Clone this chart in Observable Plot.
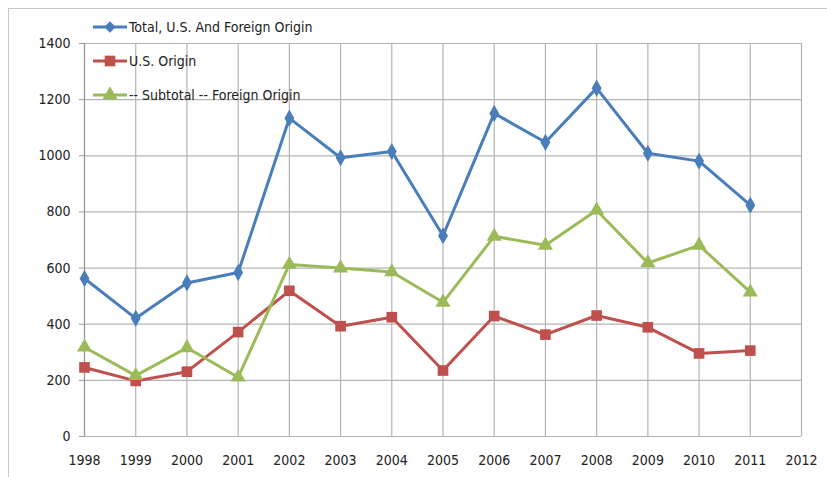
<!DOCTYPE html>
<html>
<head>
<meta charset="utf-8">
<script src="https://cdn.jsdelivr.net/npm/d3@7"></script>
<script src="https://cdn.jsdelivr.net/npm/@observablehq/plot@0.6"></script>
<style>
  html, body { margin: 0; padding: 0; background: #fff; }
  #wrap { position: relative; width: 827px; height: 477px; overflow: hidden;
          font-family: "DejaVu Sans Condensed", "Liberation Sans Narrow", sans-serif; }
  #frame { position: absolute; left: 8px; top: 8px; width: 830px; height: 480px;
           border-top: 1.5px solid #c8c8c8; border-left: 1.5px solid #c8c8c8; pointer-events: none; }
  #legend { position: absolute; left: 93px; top: 10px; font-size: 14px; color: #222; }
  .item { display: flex; align-items: center; height: 34px; }
  .item svg { margin-right: 2px; }
</style>
</head>
<body>
<div id="wrap">
  <div id="chart"></div>
  <div id="frame"></div>
  <div id="legend"></div>
</div>
<script>
const years = [1998, 1999, 2000, 2001, 2002, 2003, 2004, 2005, 2006, 2007, 2008, 2009, 2010, 2011];
const totalValues   = [563, 421, 547, 584, 1134, 993, 1015, 715, 1151, 1048, 1241, 1009, 981, 824];
const usValues      = [246, 198, 231, 372, 519, 393, 425, 235, 429, 363, 431, 389, 296, 306];
const foreignValues = [318, 217, 316, 211, 613, 600, 586, 478, 713, 681, 806, 618, 681, 514];
const seriesNames   = ["Total, U.S. And Foreign Origin", "U.S. Origin", "-- Subtotal -- Foreign Origin"];
const seriesColors  = ["#4a7ebb", "#c0504d", "#9bbb59"];
const seriesSymbols = ["diamond", "square", "triangle"];
const seriesR       = [5.2, 6.0, 5.6];
const xTicks = [1998, 1999, 2000, 2001, 2002, 2003, 2004, 2005, 2006, 2007, 2008, 2009, 2010, 2011, 2012];
const yTicks = [0, 200, 400, 600, 800, 1000, 1200, 1400];

const allValues = [totalValues, usValues, foreignValues];
const rows = [];
allValues.forEach((vals, s) => vals.forEach((v, i) => rows.push({year: years[i], value: v, series: seriesNames[s]})));

const font = '"DejaVu Sans Condensed", "Liberation Sans Narrow", sans-serif';
const marks = [
  Plot.gridX(xTicks, {stroke: "#b4b4b4", strokeOpacity: 1, strokeWidth: 1.2}),
  Plot.gridY(yTicks, {stroke: "#b4b4b4", strokeOpacity: 1, strokeWidth: 1.2}),
  Plot.axisY(yTicks, {label: null, tickSize: 5, tickFormat: d => String(d), fontSize: 14, tickPadding: 9, stroke: "#999", color: "#222"}),
  Plot.axisX(xTicks, {label: null, tickSize: 0, tickFormat: d => String(d), fontSize: 14, tickPadding: 19, color: "#222"}),
  Plot.ruleX([1998], {stroke: "#999", strokeWidth: 1.2})
];
seriesNames.forEach((name, s) => {
  const data = rows.filter(d => d.series === name);
  marks.push(Plot.line(data, {x: "year", y: "value", stroke: seriesColors[s], strokeWidth: 3}));
  marks.push(Plot.dot(data, {x: "year", y: "value", symbol: () => seriesSymbols[s], fill: seriesColors[s], stroke: "none", r: seriesR[s]}));
});

const chart = Plot.plot({
  width: 827,
  height: 477,
  marginLeft: 84,
  marginRight: 26,
  marginTop: 43,
  marginBottom: 41,
  style: {fontFamily: font, background: "transparent"},
  x: {domain: [1998, 2012], axis: null},
  y: {domain: [0, 1400], axis: null},
  symbol: {type: "identity"},
  marks
});
document.getElementById("chart").appendChild(chart);

// legend
const legend = document.getElementById("legend");
seriesNames.forEach((name, s) => {
  const item = document.createElement("div");
  item.className = "item";
  const sw = d3.create("svg").attr("width", 34).attr("height", 16);
  sw.append("line").attr("x1", 0).attr("x2", 34).attr("y1", 8).attr("y2", 8)
    .attr("stroke", seriesColors[s]).attr("stroke-width", 3);
  const size = Math.PI * seriesR[s] * seriesR[s];
  const sym = {diamond: d3.symbolDiamond2, square: d3.symbolSquare, triangle: d3.symbolTriangle}[seriesSymbols[s]];
  sw.append("path").attr("transform", "translate(17,8)")
    .attr("d", d3.symbol(sym, size)()).attr("fill", seriesColors[s]);
  item.appendChild(sw.node());
  const t = document.createElement("span");
  t.textContent = name;
  item.appendChild(t);
  legend.appendChild(item);
});
</script>
</body>
</html>
